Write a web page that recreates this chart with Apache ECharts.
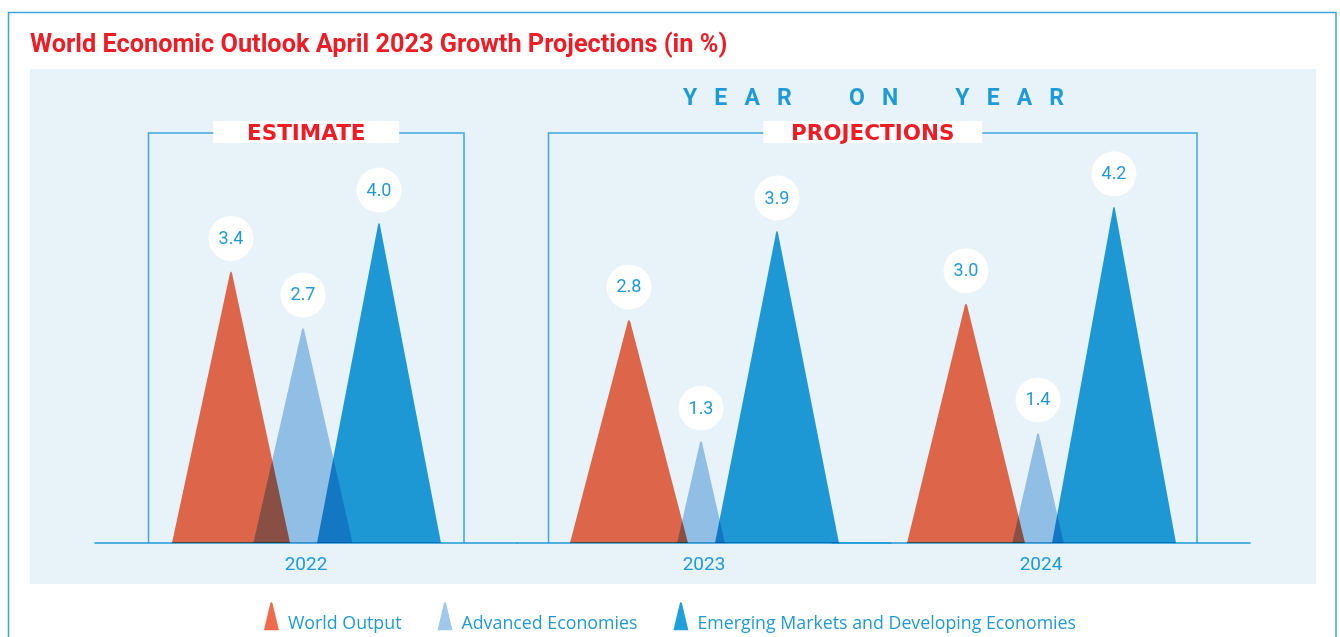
<!DOCTYPE html>
<html><head><meta charset="utf-8">
<script src="https://cdn.jsdelivr.net/npm/echarts@6/dist/echarts.min.js"></script>
<style>html,body{margin:0;padding:0;background:#fff}#c{width:1340px;height:637px}</style>
</head><body><div id="c"></div>
<script>
// ---- data ----
const categories = ['2022', '2023', '2024'];
const seriesNames = ['World Output', 'Advanced Economies', 'Emerging Markets and Developing Economies'];
const worldOutput = [3.4, 2.8, 3.0];
const advancedEconomies = [2.7, 1.3, 1.4];
const emergingEconomies = [4.0, 3.9, 4.2];
const groupTitles = ['ESTIMATE', 'PROJECTIONS'];
const headline = 'YEAR ON YEAR';

// ---- styles ----
const seriesValues = [worldOutput, advancedEconomies, emergingEconomies];
const seriesStyle = [
  { color: '#F26A4C', offset: -75, width: 118 },
  { color: '#9FC8EA', offset: -3, widthRatio: 0.455 },
  { color: '#20A0DA', offset: 73, width: 124 }
];
const BLUE = '#1E9BD7';
const RED = '#EE1C25';
const gridBoxes = [{ left: 95, width: 422 }, { left: 517, width: 374 }, { left: 832, width: 418 }];
const baseY = 543, yMax = 5, pxPerUnit = 80.75;

function peakGeom(st, api) {
  const v = api.value(1);
  const top = api.coord([api.value(0), v]);
  const base = api.coord([api.value(0), 0]);
  return { v: v, cx: top[0] + st.offset, top: top[1], base: base[1] };
}

function makePeak(st) {
  return function (params, api) {
    const g = peakGeom(st, api);
    const h = g.base - g.top;
    const half = (st.width != null ? st.width : st.widthRatio * h) / 2;
    const slope = half / h;
    const d = 9;
    const p = 'M' + (g.cx - half) + ',' + g.base +
      ' L' + (g.cx - slope * d) + ',' + (g.top + d) +
      ' Q' + g.cx + ',' + (g.top - 3) + ' ' + (g.cx + slope * d) + ',' + (g.top + d) +
      ' L' + (g.cx + half) + ',' + g.base + ' Z';
    return { type: 'path', shape: { pathData: p }, style: { fill: st.color } };
  };
}

function makeLabel(st) {
  return function (params, api) {
    const g = peakGeom(st, api);
    const cy = g.top - 30;
    return {
      type: 'group',
      children: [
        { type: 'circle', shape: { cx: g.cx, cy: cy, r: 22.5 }, style: { fill: '#ffffff' } },
        { type: 'text', x: g.cx, y: cy + 1, style: { text: g.v.toFixed(1), fill: BLUE, font: '18px Roboto', align: 'center', verticalAlign: 'middle' } }
      ]
    };
  };
}

const grids = [], xAxes = [], yAxes = [], series = [];
gridBoxes.forEach(function (g, i) {
  grids.push({ left: g.left, width: g.width, top: baseY - yMax * pxPerUnit, height: yMax * pxPerUnit });
  xAxes.push({
    type: 'category', gridIndex: i, data: [categories[i]],
    axisLine: { lineStyle: { color: BLUE, width: 1.5 } }, axisTick: { show: false },
    axisLabel: { color: BLUE, fontSize: 19, fontFamily: 'Roboto', margin: 13 }
  });
  yAxes.push({ type: 'value', gridIndex: i, min: 0, max: yMax, show: false });
  seriesNames.forEach(function (name, j) {
    series.push({
      type: 'custom', name: name, xAxisIndex: i, yAxisIndex: i, z: 2,
      blendMode: 'multiply',
      itemStyle: { color: seriesStyle[j].color },
      renderItem: makePeak(seriesStyle[j]),
      data: [[categories[i], seriesValues[j][i]]]
    });
  });
  seriesNames.forEach(function (name, j) {
    series.push({
      type: 'custom', name: name, xAxisIndex: i, yAxisIndex: i, z: 4,
      itemStyle: { color: seriesStyle[j].color },
      renderItem: makeLabel(seriesStyle[j]),
      data: [[categories[i], seriesValues[j][i]]]
    });
  });
});

function frame(x1, x2, yTop, label, labelBoxW) {
  const cx = (x1 + x2) / 2;
  return [
    { type: 'polyline', shape: { points: [[x1, baseY], [x1, yTop], [x2, yTop], [x2, baseY]] }, style: { stroke: '#3DA7DE', lineWidth: 1.5, fill: null } },
    { type: 'rect', shape: { x: cx - labelBoxW / 2, y: yTop - 12, width: labelBoxW, height: 22 }, style: { fill: '#ffffff' } },
    { type: 'text', x: cx, y: yTop + 1.5, style: { text: label, fill: RED, font: 'bold 21.5px "DejaVu Sans"', align: 'center', verticalAlign: 'middle' } }
  ];
}

const chart = echarts.init(document.getElementById('c'), null, { renderer: 'canvas' });
chart.setOption({
  animation: false,
  title: {
    text: 'World Economic Outlook April 2023 Growth Projections (in %)',
    left: 30, top: 33, padding: 0,
    textStyle: { color: RED, fontSize: 25.3, fontWeight: 'bold', fontFamily: 'Roboto' }
  },
  graphic: [
    { type: 'rect', z: -10, shape: { x: 8.5, y: 12.5, width: 1327.5, height: 700 }, style: { fill: null, stroke: '#3AA6DD', lineWidth: 1.5 } },
    { type: 'rect', z: -10, shape: { x: 30, y: 69, width: 1286, height: 515 }, style: { fill: '#E8F2F9' } },
    { type: 'text', x: 873.5, y: 99, style: { text: headline.split('').map(function (c) { return c === ' ' ? '    ' : c; }).join('   '), fill: BLUE, font: 'bold 23px Roboto', align: 'center', verticalAlign: 'middle' } }
  ].concat(frame(148.5, 464, 133, groupTitles[0], 186), frame(548.5, 1197, 133, groupTitles[1], 219)),
  legend: {
    left: 'center', top: 599, padding: 0, itemGap: 36, itemWidth: 15, itemHeight: 29,
    data: seriesNames.map(function (n) { return { name: n, icon: 'path://M0,29 L6.2,3 Q7.5,-1.5 8.8,3 L15,29 Z' }; }),
    formatter: function (n) { return '\n' + n; },
    textStyle: { color: BLUE, fontSize: 17.8, lineHeight: 16, fontFamily: '"Open Sans"', padding: [0, 0, 0, 4] }
  },
  grid: grids, xAxis: xAxes, yAxis: yAxes, series: series
});
</script></body></html>
